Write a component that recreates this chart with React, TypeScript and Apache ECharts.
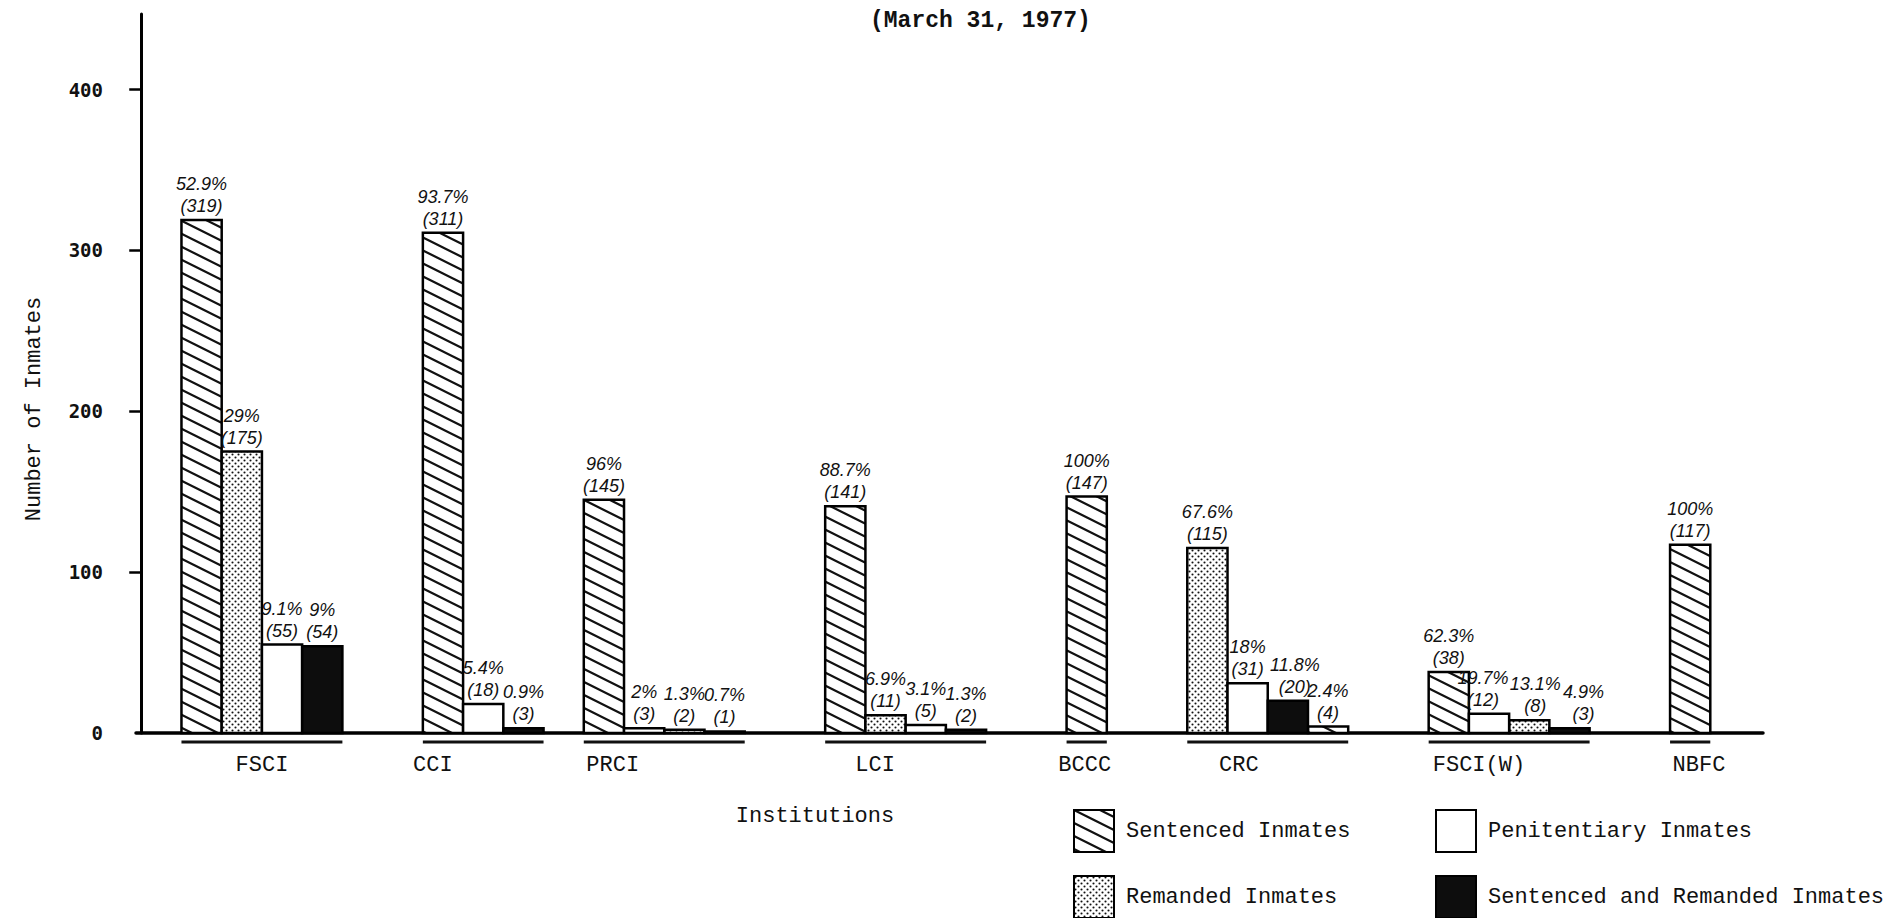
import React, { useEffect, useRef } from 'react';
import * as echarts from 'echarts';

// ---------- data ----------
const institutions = ['FSCI', 'CCI', 'PRCI', 'LCI', 'BCCC', 'CRC', 'FSCI(W)', 'NBFC'];
const seriesNames = [
  'Sentenced Inmates',
  'Remanded Inmates',
  'Penitentiary Inmates',
  'Sentenced and Remanded Inmates',
];

const sentenced = [319, 311, 145, 141, 147, 4, 38, 117];
const remanded = [175, null, 2, 11, null, 115, 8, null];
const penitentiary = [55, 18, 3, 5, null, 31, 12, null];
const sentencedRemanded = [54, 3, 1, 2, null, 20, 3, null];

const sentencedPct = ['52.9%', '93.7%', '96%', '88.7%', '100%', '2.4%', '62.3%', '100%'];
const remandedPct = ['29%', null, '1.3%', '6.9%', null, '67.6%', '13.1%', null];
const penitentiaryPct = ['9.1%', '5.4%', '2%', '3.1%', null, '18%', '19.7%', null];
const sentencedRemandedPct = ['9%', '0.9%', '0.7%', '1.3%', null, '11.8%', '4.9%', null];

const yTickValues = [0, 100, 200, 300, 400];

const titleText = '(March 31, 1977)';
const yAxisTitle = 'Number of Inmates';
const xAxisTitle = 'Institutions';

// ---------- layout (slot units on a hidden value x-axis) ----------
// order of the series (index into seriesNames) within each institution's group
const barOrder = [[0, 1, 2, 3], [0, 2, 3], [0, 2, 1, 3], [0, 1, 2, 3], [0], [1, 2, 3, 0], [0, 2, 1, 3], [0]];
const groupStartSlot = [1, 7, 11, 17, 23, 26, 32, 38];
const labelSlot = [3.0, 7.25, 11.72, 18.24, 23.45, 27.28, 33.25, 38.72];
// horizontal nudges (px) of a few crowded bar labels, keyed "seriesIndex-groupIndex"
const labelNudge: Record<string, number> = { '2-6': -6, '1-6': 6, '3-6': 14, '3-5': 7 };

const values = [sentenced, remanded, penitentiary, sentencedRemanded];
const pcts = [sentencedPct, remandedPct, penitentiaryPct, sentencedRemandedPct];

const MONO = "'Liberation Mono', 'DejaVu Sans Mono', monospace";

function hatchCanvas() {
  const c = document.createElement('canvas');
  c.width = 26;
  c.height = 13;
  const g = c.getContext('2d')!;
  g.fillStyle = '#ffffff';
  g.fillRect(0, 0, 26, 13);
  g.strokeStyle = '#111111';
  g.lineWidth = 2.2;
  for (let k = -1; k <= 1; k++) {
    g.beginPath();
    g.moveTo(-2, k * 13 - 1);
    g.lineTo(28, k * 13 + 14);
    g.stroke();
  }
  return c;
}

function dotCanvas() {
  const c = document.createElement('canvas');
  c.width = 6;
  c.height = 6;
  const g = c.getContext('2d')!;
  g.fillStyle = '#ffffff';
  g.fillRect(0, 0, 6, 6);
  g.fillStyle = '#111111';
  [[1.5, 1.5], [4.5, 4.5]].forEach(([x, y]) => {
    g.beginPath();
    g.arc(x, y, 1.05, 0, Math.PI * 2);
    g.fill();
  });
  return c;
}

function buildOption() {
  const fills: any[] = [
    { image: hatchCanvas(), repeat: 'repeat' },
    { image: dotCanvas(), repeat: 'repeat' },
    '#ffffff',
    '#0d0d0d',
  ];

  const barSeries = seriesNames.map((name, si) => {
    const items: { slot: number; value: number; pct: string; dx: number }[] = [];
    institutions.forEach((_, gi) => {
      const v = values[si][gi];
      if (v == null) return;
      const pos = barOrder[gi].indexOf(si);
      items.push({
        slot: groupStartSlot[gi] + pos,
        value: v as number,
        pct: pcts[si][gi] as string,
        dx: labelNudge[`${si}-${gi}`] || 0,
      });
    });
    return {
      type: 'custom',
      name,
      clip: false,
      itemStyle: { color: fills[si], borderColor: '#000', borderWidth: 2 },
      encode: { x: 0, y: 1 },
      data: items.map((d) => [d.slot, d.value]),
      renderItem: (params: any, api: any) => {
        const slot = api.value(0);
        const v = api.value(1);
        const p0 = api.coord([slot, 0]);
        const p1 = api.coord([slot + 1, v]);
        const it = items[params.dataIndex];
        return {
          type: 'group',
          children: [
            {
              type: 'rect',
              shape: { x: p0[0], y: p1[1], width: p1[0] - p0[0], height: p0[1] - p1[1] },
              style: { fill: fills[si], stroke: '#000', lineWidth: 2.5 },
            },
            {
              type: 'text',
              x: (p0[0] + p1[0]) / 2 + it.dx,
              y: p1[1] - 3,
              style: {
                text: `${it.pct}\n(${it.value})`,
                fill: '#111',
                fontFamily: "'Liberation Sans', Arial, sans-serif",
                fontStyle: 'italic',
                fontSize: 18,
                lineHeight: 22,
                align: 'center',
                verticalAlign: 'bottom',
              },
            },
          ],
        };
      },
    };
  });

  const groupSeries = {
    type: 'custom',
    name: 'groups',
    silent: true,
    clip: false,
    encode: { x: 0, y: 1 },
    data: institutions.map((_, gi) => [groupStartSlot[gi], 0]),
    renderItem: (params: any, api: any) => {
      const gi = params.dataIndex;
      const start = groupStartSlot[gi];
      const end = start + barOrder[gi].length;
      const p0 = api.coord([start, 0]);
      const p1 = api.coord([end, 0]);
      const pl = api.coord([labelSlot[gi], 0]);
      return {
        type: 'group',
        children: [
          {
            type: 'line',
            shape: { x1: p0[0], y1: p0[1] + 9, x2: p1[0], y2: p0[1] + 9 },
            style: { stroke: '#111', lineWidth: 3 },
          },
          {
            type: 'text',
            x: pl[0],
            y: p0[1] + 32,
            style: {
              text: institutions[gi],
              fill: '#111',
              fontFamily: MONO,
              fontSize: 22,
              align: 'center',
              verticalAlign: 'middle',
            },
          },
        ],
      };
    },
  };

  const legendPos = [
    { left: 1073, top: 809 },
    { left: 1073, top: 875 },
    { left: 1435, top: 809 },
    { left: 1435, top: 875 },
  ];

  return {
    animation: false,
    backgroundColor: '#ffffff',
    title: {
      text: titleText,
      left: 870,
      top: 9,
      padding: 0,
      textStyle: { fontFamily: MONO, fontSize: 23, fontWeight: 'bold', color: '#111' },
    },
    legend: seriesNames.map((n, i) => ({
      data: [n],
      left: legendPos[i].left,
      top: legendPos[i].top,
      padding: 0,
      icon: 'rect',
      itemWidth: 40,
      itemHeight: 42,
      selectedMode: false,
      itemStyle: { borderColor: '#000', borderWidth: 2 },
      textStyle: { fontFamily: MONO, fontSize: 22, color: '#111', padding: [0, 0, 0, 7] },
    })),
    grid: { left: 136, right: 130, top: 14, bottom: 185, containLabel: false },
    xAxis: {
      type: 'value',
      min: -0.13,
      max: 40.31,
      axisLine: { show: true, onZero: true, lineStyle: { color: '#000', width: 3.5 } },
      axisTick: { show: false },
      axisLabel: { show: false },
      splitLine: { show: false },
    },
    yAxis: {
      type: 'value',
      min: 0,
      max: 447,
      interval: 100,
      axisLine: { show: true, lineStyle: { color: '#000', width: 3 } },
      axisTick: {
        show: true,
        length: 12,
        lineStyle: { color: '#000', width: 2.5 },
        customValues: yTickValues.filter((v) => v > 0),
      },
      axisLabel: {
        customValues: yTickValues,
        margin: 33,
        fontFamily: "'DejaVu Sans Mono', monospace",
        fontWeight: 'bold',
        fontSize: 19,
        color: '#111',
      },
      splitLine: { show: false },
    },
    graphic: [
      {
        type: 'text',
        x: 34,
        y: 409,
        rotation: Math.PI / 2,
        style: {
          text: yAxisTitle,
          fill: '#111',
          fontFamily: MONO,
          fontSize: 22,
          align: 'center',
          verticalAlign: 'middle',
        },
      },
      {
        type: 'text',
        x: 815,
        y: 816,
        style: {
          text: xAxisTitle,
          fill: '#111',
          fontFamily: MONO,
          fontSize: 22,
          align: 'center',
          verticalAlign: 'middle',
        },
      },
    ],
    series: [...barSeries, groupSeries],
  };
}

export default function App() {
  const ref = useRef<HTMLDivElement>(null);
  useEffect(() => {
    document.body.style.margin = '0';
    const chart = echarts.init(ref.current!, null, { renderer: 'svg' });
    chart.setOption(buildOption() as any);
    return () => chart.dispose();
  }, []);
  return (
    <div
      ref={ref}
      style={{ position: 'absolute', left: 0, top: 0, width: 1893, height: 918, background: '#fff' }}
    />
  );
}
